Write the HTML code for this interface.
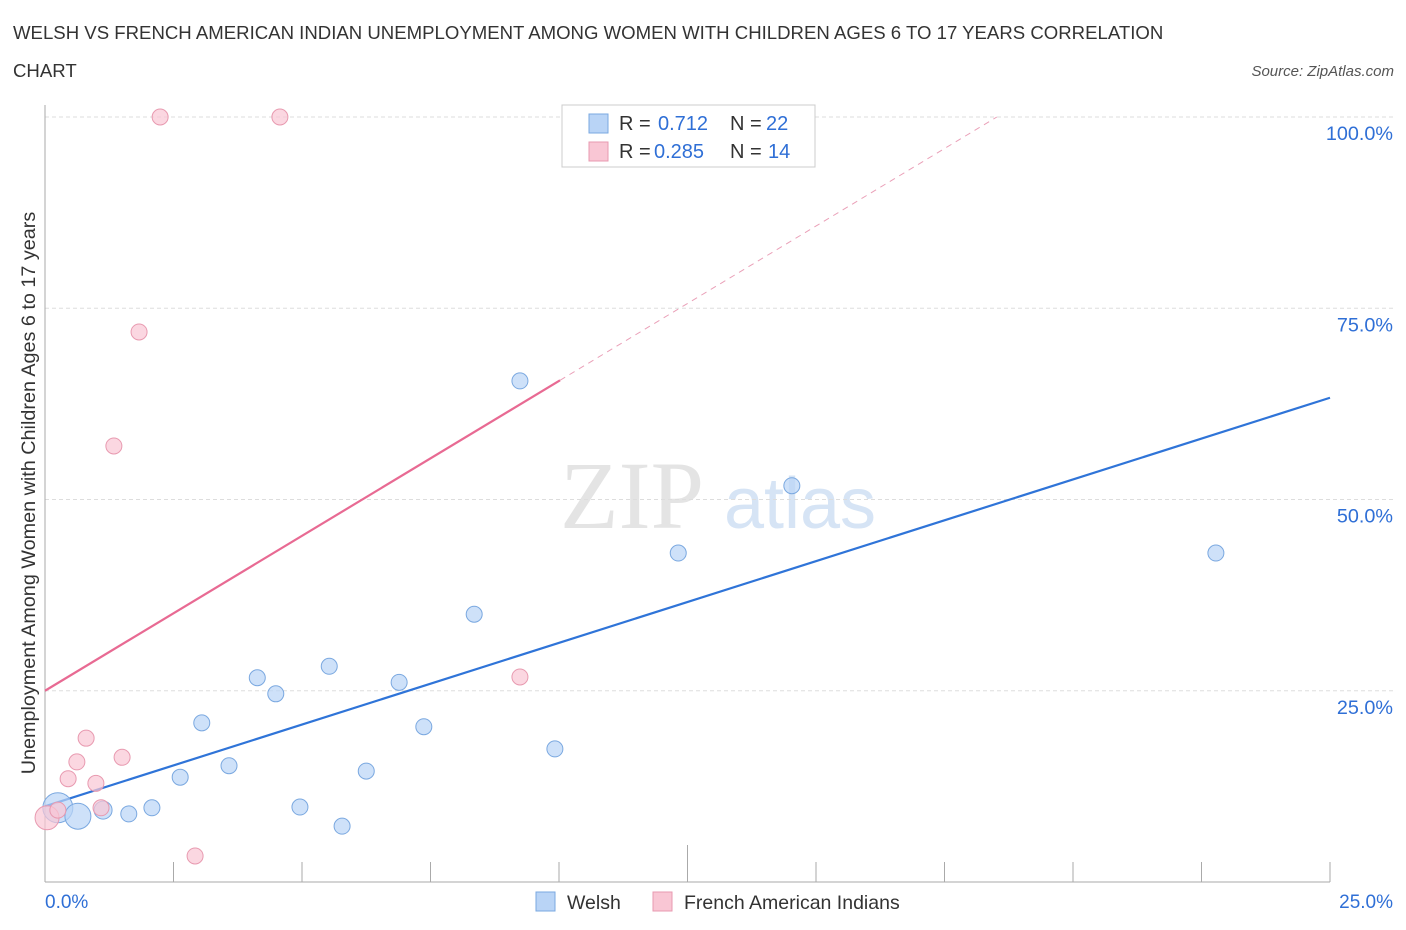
<!DOCTYPE html>
<html><head><meta charset="utf-8"><style>
body{margin:0;background:#fff;font-family:"Liberation Sans",sans-serif;}
svg{display:block}
</style></head><body>
<svg id="c" width="1406" height="930">
<text x="13" y="39" font-size="18.6" fill="#333">WELSH VS FRENCH AMERICAN INDIAN UNEMPLOYMENT AMONG WOMEN WITH CHILDREN AGES 6 TO 17 YEARS CORRELATION</text>
<text x="13" y="77" font-size="18.6" fill="#333">CHART</text>
<text x="1394" y="76" font-size="15" fill="#555" font-style="italic" text-anchor="end">Source: ZipAtlas.com</text>
<text x="632" y="528" font-size="96" fill="#e4e4e4" font-family="Liberation Serif,serif" text-anchor="middle">ZIP</text>
<text x="800" y="528" font-size="72" fill="#d6e4f5" text-anchor="middle">atlas</text>
<text transform="translate(35,493) rotate(-90)" font-size="19.8" fill="#333" text-anchor="middle">Unemployment Among Women with Children Ages 6 to 17 years</text>
<g id="grid"></g><g id="lines"></g><g id="pts"></g>
<g>
<rect x="562" y="105" width="253" height="62" fill="#fff" stroke="#ccc"/>
<rect x="589" y="114" width="19" height="19" fill="#b9d4f6" stroke="#7aa8e0"/>
<text x="619" y="130" font-size="20" fill="#333">R = </text><text x="658" y="130" font-size="20" fill="#2f6fd6">0.712</text>
<text x="730" y="130" font-size="20" fill="#333">N = </text><text x="766" y="130" font-size="20" fill="#2f6fd6">22</text>
<rect x="589" y="142" width="19" height="19" fill="#f9c6d4" stroke="#e89ab0"/>
<text x="619" y="158" font-size="20" fill="#333">R = </text><text x="654" y="158" font-size="20" fill="#2f6fd6">0.285</text>
<text x="730" y="158" font-size="20" fill="#333">N = </text><text x="768" y="158" font-size="20" fill="#2f6fd6">14</text>
</g>
<g>
<rect x="536" y="892" width="19" height="19" fill="#b9d4f6" stroke="#7aa8e0"/>
<text x="567" y="909" font-size="19.5" fill="#333">Welsh</text>
<rect x="653" y="892" width="19" height="19" fill="#f9c6d4" stroke="#e89ab0"/>
<text x="684" y="909" font-size="19.5" fill="#333">French American Indians</text>
</g>
<text x="45" y="908" font-size="19" fill="#2f6fd6">0.0%</text>
<text x="1393" y="908" font-size="19" fill="#2f6fd6" text-anchor="end">25.0%</text>
</svg>
<script>
const welshX=[0.25,0.64,1.13,1.63,2.08,2.63,3.05,3.58,4.13,4.49,4.96,5.53,5.78,6.25,6.89,7.37,8.35,9.24,9.92,12.32,14.53,22.78];
const welshY=[9.7,8.6,9.4,8.9,9.7,13.7,20.8,15.2,26.7,24.6,9.8,28.2,7.3,14.5,26.1,20.3,35.0,65.5,17.4,43.0,51.8,43.0];
const welshR=[15,13,9,8,8,8,8,8,8,8,8,8,8,8,8,8,8,8,8,8,8,8];
const frX=[0.04,0.25,0.45,0.62,0.80,0.99,1.09,1.50,1.34,1.83,2.24,2.92,4.57,9.24];
const frY=[8.4,9.4,13.5,15.7,18.8,12.9,9.7,16.3,57.0,71.9,100,3.4,100,26.8];
const frR=[12,8,8,8,8,8,8,8,8,8,8,8,8,8];
const yTicks=[25,50,75,100];
const yTickLabels=["25.0%","50.0%","75.0%","100.0%"];
const welshLine=[9.9,63.3];
const frLine=[25.0,4.05];
const NS="http://www.w3.org/2000/svg";
const X=v=>45+v*51.4, Y=v=>882-v*7.65;
function mk(t,a,p){const e=document.createElementNS(NS,t);for(const k in a)e.setAttribute(k,a[k]);p.appendChild(e);return e;}
const g=document.getElementById('grid');
yTicks.forEach((t,i)=>{
 const l=mk('line',{x1:45,x2:1395,y1:Y(t),y2:Y(t),stroke:'#ddd','stroke-dasharray':'4,3'},g);
 
 
 const tx=mk('text',{x:1393,y:Y(t)+23,'font-size':19.8,fill:'#2f6fd6','text-anchor':'end'},g);
 tx.textContent=yTickLabels[i];
 
 
});
const ax=mk('line',{x1:45,x2:1330,y1:882,y2:882,stroke:'#aaa'},g);


const ay=mk('line',{x1:45,x2:45,y1:105,y2:882,stroke:'#aaa'},g);


for(let i=0;i<=10;i++){const x=X(i*2.5);
 const t=mk('line',{x1:x,x2:x,y1:i==5?845:862,y2:882,stroke:'#aaa'},g);
 
 }
const L=document.getElementById('lines');
const bl=mk('line',{x1:X(0),y1:Y(welshLine[0]),x2:X(25),y2:Y(welshLine[1]),stroke:'#2f74d8','stroke-width':2.2},L);


const xe=10.02, xd=(100-frLine[0])/frLine[1];
const pl=mk('line',{x1:X(0),y1:Y(frLine[0]),x2:X(xe),y2:Y(frLine[0]+frLine[1]*xe),stroke:'#e86a93','stroke-width':2.2},L);


const pd=mk('line',{x1:X(xe),y1:Y(frLine[0]+frLine[1]*xe),x2:X(xd),y2:Y(100),stroke:'#eaa0b8','stroke-width':1,'stroke-dasharray':'6,5'},L);


const P=document.getElementById('pts');
welshX.forEach((v,i)=>{const c=mk('circle',{cx:X(v),cy:Y(welshY[i]),r:welshR[i],fill:'#b9d4f6','fill-opacity':0.7,stroke:'#7aa8e0'},P);
 
 });
frX.forEach((v,i)=>{const c=mk('circle',{cx:X(v),cy:Y(frY[i]),r:frR[i],fill:'#f9c6d4','fill-opacity':0.7,stroke:'#e89ab0'},P);
 
 });
</script>
</body></html>
